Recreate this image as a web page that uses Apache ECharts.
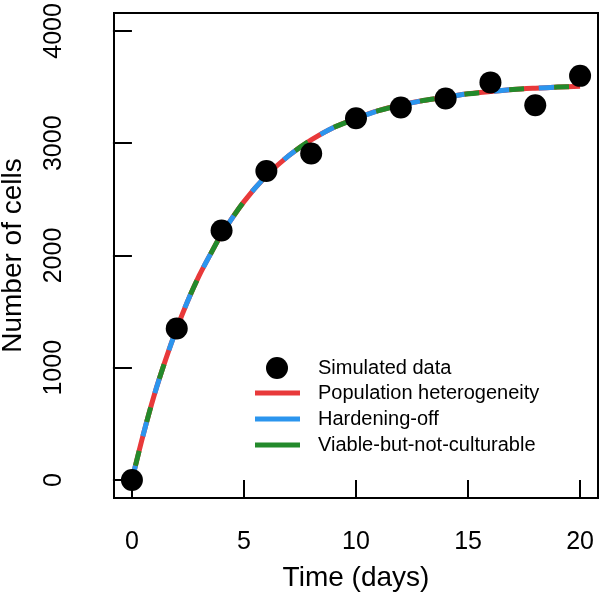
<!DOCTYPE html>
<html>
<head>
<meta charset="utf-8">
<script src="https://cdn.jsdelivr.net/npm/echarts@6/dist/echarts.min.js"></script>
<style>
html,body{margin:0;padding:0;background:#fff;}
#chart{width:600px;height:597px;}
</style>
</head>
<body>
<div id="chart"></div>
<script>
// Simulated data points
var dataDays = [0, 2, 4, 6, 8, 10, 12, 14, 16, 18, 20];
var dataCells = [0, 1350, 2222, 2752, 2908, 3222, 3318, 3398, 3542, 3338, 3600];
// Fitted curve
var curveDays = [0, 0.5, 1, 1.5, 2, 2.5, 3, 3.5, 4, 5, 6, 7, 8, 9, 10, 11, 12, 13, 14, 15, 16, 17, 18, 19, 20];
var curveCells = [0, 400, 760, 1070, 1350, 1600, 1820, 2010, 2190, 2480, 2710, 2890, 3030, 3140, 3220, 3290, 3340, 3380, 3410, 3440, 3460, 3478, 3490, 3500, 3508];
// Tick labels
var xTicks = [0, 5, 10, 15, 20];
var yTicks = [0, 1000, 2000, 3000, 4000];
var seriesNames = ['Simulated data', 'Population heterogeneity', 'Hardening-off', 'Viable-but-not-culturable'];
var colors = ['#000000', '#E8393A', '#2B95EE', '#238A2B'];

function pairs(xs, ys) { return xs.map(function (x, i) { return [x, ys[i]]; }); }

var FONT = '"Liberation Sans", Arial, Helvetica, sans-serif';
var chart = echarts.init(document.getElementById('chart'), null, {renderer: 'canvas'});

function curveSeries(idx, dash, offset) {
  return {
    name: seriesNames[idx],
    type: 'line',
    data: pairs(curveDays, curveCells),
    smooth: 0.3,
    showSymbol: false,
    color: colors[idx],
    lineStyle: {color: colors[idx], width: 5, type: dash, dashOffset: offset, cap: 'butt'},
    z: 2 + idx,
    silent: true
  };
}

var option = {
  animation: false,
  backgroundColor: '#ffffff',
  textStyle: {fontFamily: FONT},
  grid: {left: 114, right: 2, top: 13, bottom: 99, containLabel: false, outerBoundsMode: 'none',
         show: true, borderColor: '#000', borderWidth: 2, backgroundColor: 'transparent'},
  xAxis: {
    type: 'value', min: -0.8, max: 20.8,
    name: 'Time (days)', nameLocation: 'middle', nameGap: 66,
    nameTextStyle: {fontSize: 28, color: '#000', fontFamily: FONT},
    axisLine: {show: false},
    axisTick: {show: true, customValues: xTicks, length: 19, inside: false, lineStyle: {color: '#000', width: 2}},
    axisLabel: {customValues: xTicks, fontSize: 25, color: '#000', margin: 32, fontFamily: FONT,
                formatter: function (v) { return String(v); }},
    splitLine: {show: false}
  },
  yAxis: {
    type: 'value', min: -160, max: 4160,
    name: 'Number of cells', nameLocation: 'middle', nameGap: 87,
    nameTextStyle: {fontSize: 28, color: '#000', fontFamily: FONT},
    axisLine: {show: false},
    axisTick: {show: true, customValues: yTicks, length: 19, inside: false, lineStyle: {color: '#000', width: 2}},
    axisLabel: {customValues: yTicks, fontSize: 25, color: '#000', margin: 47, rotate: 90, fontFamily: FONT,
                formatter: function (v) { return String(v); }},
    splitLine: {show: false}
  },
  legend: [
    {
      data: [{name: seriesNames[0], icon: 'circle'}],
      left: 261, top: 352, itemWidth: 22, itemHeight: 22,
      selectedMode: false,
      textStyle: {fontSize: 20, color: '#000', fontFamily: FONT, padding: [0, 0, 0, 25]}
    },
    {
      data: [
        {name: seriesNames[1], icon: 'rect'},
        {name: seriesNames[2], icon: 'rect'},
        {name: seriesNames[3], icon: 'rect'}
      ],
      orient: 'vertical', left: 250, top: 378, itemWidth: 45, itemHeight: 5, itemGap: 6,
      selectedMode: false,
      textStyle: {fontSize: 20, lineHeight: 20, color: '#000', fontFamily: FONT, padding: [0, 0, 0, 13]}
    }
  ],
  series: [
    curveSeries(1, 'solid', 0),
    curveSeries(2, [15, 30], 0),
    curveSeries(3, [15, 30], -15),
    {
      name: seriesNames[0],
      type: 'scatter',
      data: pairs(dataDays, dataCells),
      symbol: 'circle',
      symbolSize: 22,
      color: '#000',
      itemStyle: {color: '#000', opacity: 1},
      z: 10,
      silent: true
    }
  ]
};
chart.setOption(option);
</script>
</body>
</html>
